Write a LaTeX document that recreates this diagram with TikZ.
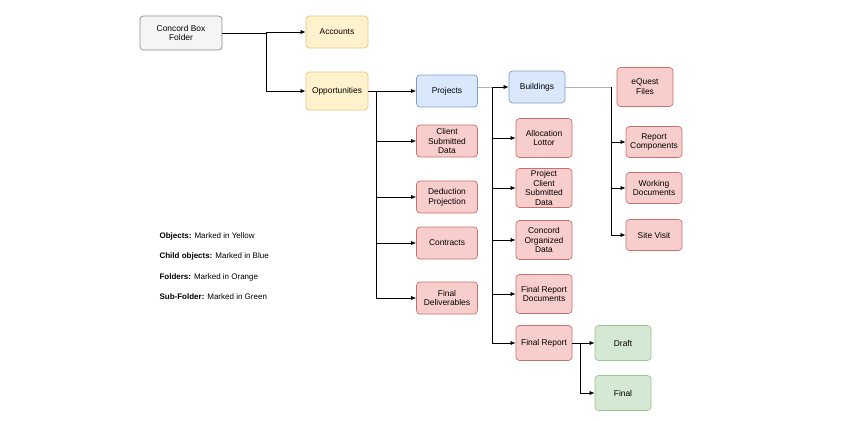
\documentclass[tikz,border=0pt]{standalone}
\usepackage{fontspec}
\setmainfont{Liberation Sans}
\usetikzlibrary{arrows.meta}
\definecolor{yelfill}{HTML}{FFF2CC}
\definecolor{yeldraw}{HTML}{E3C87A}
\definecolor{bluefill}{HTML}{DAE8FC}
\definecolor{bluedraw}{HTML}{7D9CCB}
\definecolor{redfill}{HTML}{F8CECC}
\definecolor{reddraw}{HTML}{C5716E}
\definecolor{grnfill}{HTML}{D5E8D4}
\definecolor{grndraw}{HTML}{9DC391}
\definecolor{greyfill}{HTML}{F5F5F5}
\definecolor{greydraw}{HTML}{8A8A8A}
\tikzset{
  box/.style={draw, rounded corners=3.5pt, align=center, inner sep=1pt,
    line width=0.7pt, minimum width=56pt, minimum height=34pt,
    font=\fontsize{8.4}{9.8}\selectfont},
  root/.style={box, fill=greyfill, draw=greydraw, minimum width=82pt},
  objbox/.style={box, fill=yelfill, draw=yeldraw, minimum width=62pt},
  childbox/.style={box, fill=bluefill, draw=bluedraw},
  folder/.style={box, fill=redfill, draw=reddraw},
  subfolder/.style={box, fill=grnfill, draw=grndraw},
  arr/.style={-{Latex[length=5pt,width=4pt]}, line width=0.6pt},
  link/.style={line width=0.6pt},
  faint/.style={draw=black!30, line width=0.5pt},
  legend/.style={anchor=west, font=\fontsize{8}{9.5}\selectfont}
}
\begin{document}
\begin{tikzpicture}[x=1pt,y=-1pt]
  \useasboundingbox (0,0) rectangle (848,420);
  % top level
  \node[root] (box) at (181,33) {Concord Box\\Folder};
  \node[objbox, minimum height=32pt] (acc) at (337,32) {Accounts};
  \node[objbox, minimum height=38pt] (opp) at (337,91) {Opportunities};
  % opportunities
  \node[childbox, minimum width=61pt, minimum height=32pt] (proj) at (447,91) {Projects};
  \node[folder, minimum width=61pt, minimum height=32pt] (csd) at (447,141) {Client\\Submitted\\Data};
  \node[folder, minimum width=61pt, minimum height=32pt] (ded) at (447,197) {Deduction\\Projection};
  \node[folder, minimum width=61pt, minimum height=32pt] (con) at (447,243) {Contracts};
  \node[folder, minimum width=61pt, minimum height=32pt] (fdel) at (447,298) {Final\\Deliverables};
  % projects
  \node[childbox, minimum height=32pt] (bld) at (537,87) {Buildings};
  \node[folder, minimum height=39pt] (alloc) at (544,138) {Allocation\\Lottor};
  \node[folder, minimum height=39pt] (pcsd) at (544,188) {Project\\Client\\Submitted\\Data};
  \node[folder, minimum height=39pt] (cod) at (544,240) {Concord\\Organized\\Data};
  \node[folder, minimum height=39pt] (frd) at (544,294) {Final Report\\Documents};
  \node[folder, minimum height=35pt] (frep) at (544,343) {Final Report};
  \node[subfolder, minimum height=35pt] (draft) at (623,343) {Draft};
  \node[subfolder, minimum height=35pt] (final) at (623,393) {Final};
  % buildings
  \node[folder, minimum height=39pt] (eq) at (645,87) {eQuest\\Files};
  \node[folder, minimum height=31pt] (rc) at (654,142) {Report\\Components};
  \node[folder, minimum height=31pt] (wd) at (654,188) {Working\\Documents};
  \node[folder, minimum height=31pt] (sv) at (654,235) {Site Visit};
  % trunks
  \coordinate (boxT) at (266,33);
  \coordinate (oppT) at (376,91);
  \coordinate (projT) at (492,87);
  \coordinate (bldT) at (611,87);
  \coordinate (frepT) at (580,343);
  \draw[link] (box.east) -- (boxT);
  \foreach \n in {acc,opp}
    \draw[arr] (boxT) |- (\n.west);
  \draw[arr] (opp.east) -- (proj.west);
  \foreach \n in {csd,ded,con,fdel}
    \draw[arr] (oppT) |- (\n.west);
  \draw[faint] (proj.east |- projT) -- (projT);
  \draw[arr] (projT) -- (bld.west);
  \foreach \n in {alloc,pcsd,cod,frd,frep}
    \draw[arr] (projT) |- (\n.west);
  \draw[faint] (bld.east) -- (bldT);
  \foreach \n in {rc,wd,sv}
    \draw[arr] (bldT) |- (\n.west);
  \draw[arr] (frep.east) -- (draft.west);
  \draw[arr] (frepT) |- (final.west);
  % legend
  \node[legend] (l1) at (156,236) {\textbf{Objects:} Marked in Yellow};
  \node[legend] (l2) at (156,256) {\textbf{Child objects:} Marked in Blue};
  \node[legend] (l3) at (156,277) {\textbf{Folders:} Marked in Orange};
  \node[legend] (l4) at (156,297) {\textbf{Sub-Folder:} Marked in Green};
\end{tikzpicture}
\end{document}
